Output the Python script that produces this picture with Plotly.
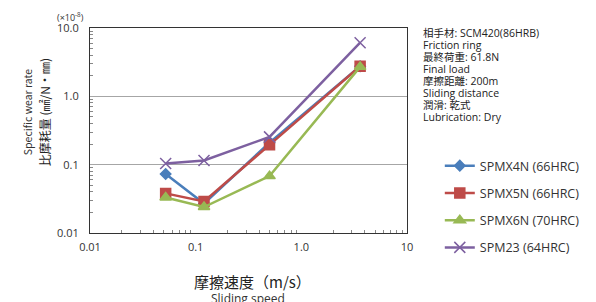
import plotly.graph_objects as go

speed = [0.052, 0.12, 0.5, 3.6]
spmx4n = [0.073, 0.027, 0.21, 2.75]
spmx5n = [0.038, 0.029, 0.195, 2.75]
spmx6n = [0.033, 0.024, 0.068, 2.7]
spm23 = [0.104, 0.115, 0.255, 6.1]

names = ["SPMX4N (66HRC)", "SPMX5N (66HRC)", "SPMX6N (70HRC)", "SPM23 (64HRC)"]
colors = ["#4A7EBB", "#BE4B48", "#98B954", "#7D60A0"]
symbols = ["diamond", "square", "triangle-up", "x-thin-open"]
sizes = [8, 10, 10, 11]
series = [spmx4n, spmx5n, spmx6n, spm23]

y_ticks = [0.01, 0.1, 1, 10]
y_ticktext = ["0.01", "0.1", "1.0", "10.0"]
x_ticks = [0.01, 0.1, 1, 10]
x_ticktext = ["0.01", "0.1", "1.0", "10"]

FONT = "Open Sans, Noto Sans CJK JP"
JFONT = "Noto Sans CJK JP"

fig = go.Figure()
for i, (n, c, s, sz, ys) in enumerate(zip(names, colors, symbols, sizes, series)):
    fig.add_trace(go.Scatter(
        x=speed, y=ys, name=n, mode="lines+markers",
        line=dict(color=c, width=2.5),
        marker=dict(symbol=s, size=sz, color=c, line=dict(color=c, width=1.5)),
        legendgroup=str(i),
    ))

minor_vals = [m * 10 ** e for e in (-2, -1, 0) for m in range(2, 10)]

fig.update_layout(
    width=596, height=302,
    margin=dict(l=90, r=188, t=28, b=69),
    paper_bgcolor="white", plot_bgcolor="white",
    font=dict(family=FONT, size=11, color="#333"),
    xaxis=dict(type="log", range=[-2, 1], tickvals=x_ticks, ticktext=x_ticktext,
               showgrid=False, showline=True, mirror=True, linecolor="#333", linewidth=1,
               ticks="", zeroline=False, tickfont=dict(size=11, color="#333"),
               ticklabelstandoff=4,
               minor=dict(tickvals=minor_vals, ticks="inside", ticklen=3, tickcolor="#888", showgrid=False)),
    yaxis=dict(type="log", range=[-2, 1], tickvals=y_ticks, ticktext=y_ticktext,
               showgrid=True, gridcolor="#A6A6A6", gridwidth=1,
               showline=True, mirror=True, linecolor="#333", linewidth=1,
               ticks="", zeroline=False, tickfont=dict(size=11, color="#333"),
               ticklabelstandoff=8,
               minor=dict(tickvals=minor_vals, ticks="inside", ticklen=3, tickcolor="#888", showgrid=False)),
    legend=dict(x=1.10, y=0.40, xanchor="left", yanchor="top",
                font=dict(size=12.5, color="#333", family=FONT),
                tracegroupgap=8, bgcolor="rgba(0,0,0,0)", itemwidth=30),
    showlegend=True,
)


def px(xp):
    return (xp - 90) / 318


def py(yp):
    return (233 - yp) / 205


def ann(text, x, y, size, color="#333", family=FONT, angle=0, xanchor="center"):
    fig.add_annotation(text=text, xref="paper", yref="paper", x=px(x), y=py(y),
                       xanchor=xanchor, yanchor="middle", textangle=angle, showarrow=False,
                       font=dict(size=size, color=color, family=family))


ann("(×10<sup>-8</sup>)", 70, 17, 9)
ann("Specific wear rate", 27, 112, 10.5, family=JFONT, angle=-90)
ann("比摩耗量 (㎟/N・㎜)", 44, 112, 12, color="#222", family=JFONT, angle=-90)
ann("摩擦速度（m/s）", 253, 281, 15, color="#222", family=JFONT)
ann("Sliding speed", 248, 298, 12)

info = ["相手材: SCM420(86HRB)", "Friction ring", "最終荷重: 61.8N", "Final load",
        "摩擦距離: 200m", "Sliding distance", "潤滑: 乾式", "Lubrication: Dry"]
for k, line in enumerate(info):
    ann(line, 422, 33 + 12 * k, 10.5, color="#222", xanchor="left")

fig.write_html("out.html", config={"displayModeBar": False},
               post_script="document.body.style.margin='0px';")
